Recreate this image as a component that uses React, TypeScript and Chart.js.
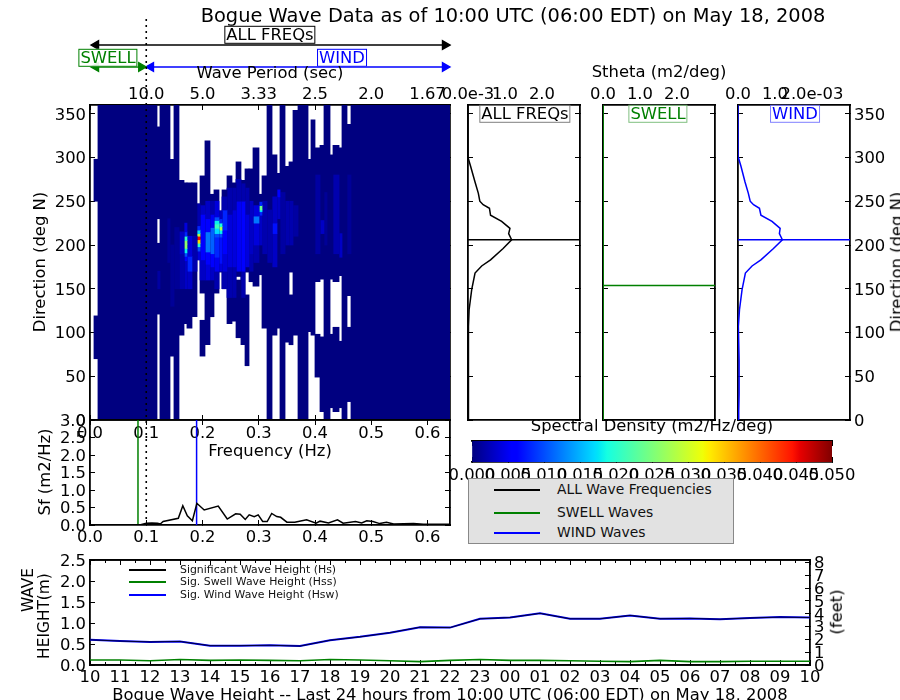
import React, { useEffect, useRef } from "react";
import { Chart, registerables } from "chart.js";

Chart.register(...registerables);

const FONT = '"DejaVu Sans", sans-serif';
const TICK_SIZE = 16.4;

// ---------- data ----------
const freqEdges = [0, 0.0071, 0.0142, 0.0213, 0.0284, 0.0356, 0.0427, 0.0498, 0.0569, 0.064, 0.0711, 0.0782, 0.0853, 0.0924, 0.0996, 0.1067, 0.1138, 0.1191, 0.1244, 0.1316, 0.1369, 0.1422, 0.1493, 0.1582, 0.1671, 0.1724, 0.1813, 0.1902, 0.1956, 0.2044, 0.2133, 0.2204, 0.2293, 0.2347, 0.2436, 0.2524, 0.2596, 0.2684, 0.2756, 0.2827, 0.2898, 0.3004, 0.3058, 0.3147, 0.3236, 0.3324, 0.3378, 0.3467, 0.3538, 0.3609, 0.3698, 0.3769, 0.3822, 0.3876, 0.3929, 0.4, 0.4089, 0.416, 0.4213, 0.4267, 0.432, 0.4427, 0.448, 0.4569, 0.464, 0.4711, 0.4782, 0.4853, 0.4924, 0.4996, 0.5067, 0.5138, 0.5209, 0.528, 0.5351, 0.5422, 0.5493, 0.5564, 0.5636, 0.5707, 0.5778, 0.5849, 0.592, 0.5991, 0.6062, 0.6133, 0.6204, 0.6276, 0.6347, 0.64];

// direction ranges holding data in each frequency column that is not full; others cover 0-360
const partialColumns: Record<number, number[][]> = {
  0: [],
  1: [[70, 119], [250, 298]],
  17: [[121, 202], [230, 335]],
  21: [[73, 298]],
  23: [[97, 274]],
  24: [[110, 271]],
  25: [[105, 271]],
  26: [[118, 271]],
  27: [[183, 247]],
  28: [[73, 114], [145, 279]],
  29: [[86, 319]],
  30: [[118, 258]],
  31: [[145, 263]],
  32: [[169, 239]],
  33: [[150, 263]],
  34: [[110, 279]],
  35: [[113, 271]],
  36: [[94, 160], [164, 295]],
  37: [[86, 274]],
  38: [[62, 143], [169, 287]],
  39: [[158, 287]],
  40: [[153, 311]],
  41: [[166, 258]],
  42: [[105, 279]],
  44: [[97, 303]],
  45: [[105, 282]],
  47: [[89, 290]],
  48: [[86, 143], [169, 295]],
  49: [[97, 354]],
  53: [[101, 298]],
  54: [[97, 343]],
  55: [[49, 98], [158, 311]],
  56: [[9.5, 95], [161, 314]],
  59: [[14, 98], [161, 303]],
  60: [[9.5, 106], [158, 314]],
  61: [[14, 90], [165, 311]],
  63: [[21, 106], [142, 338]],
};

// [column, direction low, direction high, spectral density]
const heatCells = [
  [17, 150, 170, 0.0015], [20, 180, 230, 0.001], [21, 130, 200, 0.001], [22, 150, 220, 0.001],
  [23, 150, 190, 0.002], [23, 190, 215, 0.003],
  [24, 150, 182, 0.003], [24, 182, 187, 0.006], [24, 187, 191, 0.01], [24, 191, 196, 0.018], [24, 196, 201, 0.026], [24, 201, 205, 0.026], [24, 205, 210, 0.02], [24, 210, 215, 0.008], [24, 215, 225, 0.004],
  [25, 150, 170, 0.003], [25, 170, 187, 0.008], [25, 187, 210, 0.004],
  [26, 170, 210, 0.002],
  [27, 183, 193, 0.004], [27, 193, 198, 0.01], [27, 198, 202, 0.02], [27, 202, 206, 0.034], [27, 206, 210, 0.045], [27, 210, 213, 0.028], [27, 213, 217, 0.017], [27, 217, 222, 0.008], [27, 222, 247, 0.002],
  [28, 160, 183, 0.003], [28, 183, 235, 0.006], [28, 235, 245, 0.003],
  [29, 160, 178, 0.004], [29, 178, 192, 0.006], [29, 192, 215, 0.012], [29, 215, 230, 0.006], [29, 230, 250, 0.003],
  [30, 160, 175, 0.003], [30, 175, 190, 0.006], [30, 190, 220, 0.011], [30, 220, 235, 0.005], [30, 235, 250, 0.002],
  [31, 150, 170, 0.002], [31, 170, 186, 0.005], [31, 186, 209, 0.008], [31, 209, 213, 0.01], [31, 213, 219, 0.017], [31, 219, 224, 0.021], [31, 224, 228, 0.018], [31, 228, 232, 0.01], [31, 232, 250, 0.004],
  [32, 170, 179, 0.004], [32, 179, 209, 0.007], [32, 209, 213, 0.01], [32, 213, 217, 0.018], [32, 217, 221, 0.028], [32, 221, 225, 0.019], [32, 225, 230, 0.008], [32, 230, 239, 0.003],
  [33, 150, 170, 0.002], [33, 170, 190, 0.004], [33, 190, 217, 0.006], [33, 217, 240, 0.008], [33, 240, 255, 0.002],
  [34, 140, 175, 0.002], [34, 175, 235, 0.004], [34, 235, 265, 0.002],
  [35, 140, 175, 0.002], [35, 175, 240, 0.004], [35, 240, 265, 0.002],
  [36, 170, 250, 0.005], [36, 250, 275, 0.002],
  [37, 140, 170, 0.002], [37, 170, 250, 0.006], [37, 250, 270, 0.002],
  [38, 175, 235, 0.004], [38, 235, 265, 0.002], [39, 170, 190, 0.002], [39, 190, 250, 0.003],
  [40, 180, 200, 0.002], [40, 200, 225, 0.004], [40, 225, 233, 0.012], [40, 233, 245, 0.004],
  [41, 200, 234, 0.003], [41, 234, 238, 0.008], [41, 238, 240, 0.017], [41, 240, 245, 0.024], [41, 245, 249, 0.008],
  [42, 190, 250, 0.002], [43, 180, 240, 0.002],
  [44, 175, 213, 0.003], [44, 213, 225, 0.007], [44, 225, 255, 0.003],
  [45, 230, 255, 0.003], [45, 255, 263, 0.006],
  [46, 190, 260, 0.0015], [47, 200, 250, 0.002], [48, 200, 250, 0.002], [49, 210, 245, 0.0015],
  [55, 190, 280, 0.0015], [56, 213, 228, 0.003], [57, 200, 260, 0.001],
  [60, 190, 280, 0.002], [61, 186, 213, 0.003], [63, 190, 280, 0.001],
];

const directionTicks = [0, 50, 100, 150, 200, 250, 300, 350];
const freqTicks = [0, 0.1, 0.2, 0.3, 0.4, 0.5, 0.6];
const periodLabels = ["", "10.0", "5.0", "3.33", "2.5", "2.0", "1.67"];

const sthetaDirs = [0, 10, 30, 68, 107, 126, 149, 168, 176, 183, 196, 206, 213, 219, 227, 234, 242, 246, 250, 259, 272, 290, 300, 360];
const sthetaAll = [0.01, 0.01, 0.02, 0.02, 0, 0.03, 0.1, 0.19, 0.37, 0.61, 0.95, 1.18, 1.1, 1.135, 0.91, 0.61, 0.58, 0.41, 0.32, 0.28, 0.19, 0.07, 0, 0];
const sthetaSwell = [0.004, 0.004, 0.004, 0.004, 0.004, 0.004, 0.004, 0.004, 0.004, 0.004, 0.004, 0.004, 0.004, 0.004, 0.004, 0.004, 0.004, 0.004, 0.004, 0.004, 0.004, 0.004, 0.004, 0.004];
const sthetaWind = [0.01, 0.02, 0.03, 0.03, 0.01, 0.04, 0.11, 0.2, 0.38, 0.62, 0.96, 1.2, 1.12, 1.14, 0.92, 0.62, 0.58, 0.42, 0.33, 0.28, 0.19, 0.08, 0.01, 0];
const sthetaTicks = [0, 1, 2];
const sthetaLabelsAll = ["0.0e-3", "1.0", "2.0"];
const sthetaLabelsSwell = ["0.0", "1.0", "2.0"];
const sthetaLabelsWind = ["0.0", "1.0", "2.0e-03"];
const meanDirAll = 206;
const meanDirSwell = 153.8;
const meanDirWind = 206;

const sfFreq = [0, 0.09, 0.1, 0.11, 0.12, 0.125, 0.13, 0.157, 0.165, 0.173, 0.182, 0.19, 0.203, 0.228, 0.244, 0.259, 0.267, 0.276, 0.283, 0.292, 0.299, 0.307, 0.315, 0.323, 0.332, 0.339, 0.35, 0.364, 0.385, 0.402, 0.409, 0.424, 0.44, 0.45, 0.472, 0.483, 0.492, 0.503, 0.515, 0.527, 0.54, 0.575, 0.593, 0.64];
const sfValues = [0.01, 0.01, 0.05, 0.06, 0.05, 0.03, 0.1, 0.19, 0.55, 0.26, 0.12, 0.62, 0.43, 0.54, 0.17, 0.32, 0.31, 0.16, 0.29, 0.24, 0.29, 0.1, 0.1, 0.33, 0.24, 0.22, 0.08, 0.08, 0.15, 0.05, 0.11, 0.06, 0.15, 0.05, 0.1, 0.06, 0.12, 0.1, 0.04, 0.08, 0.03, 0.04, 0.02, 0.02];
const sfTicks = [0, 0.5, 1, 1.5, 2, 2.5, 3];
const peakFreqSwell = 0.0853;
const peakFreqWind = 0.1895;
const splitFreq = 0.1;

const hourPositions = [0, 1, 2, 3, 4, 5, 6, 7, 8, 9, 10, 11, 12, 13, 14, 15, 16, 17, 18, 19, 20, 21, 22, 23, 24];
const hourMinor = [0.5, 1.5, 2.5, 3.5, 4.5, 5.5, 6.5, 7.5, 8.5, 9.5, 10.5, 11.5, 12.5, 13.5, 14.5, 15.5, 16.5, 17.5, 18.5, 19.5, 20.5, 21.5, 22.5, 23.5];
const hourLabels = ["10", "11", "12", "13", "14", "15", "16", "17", "18", "19", "20", "21", "22", "23", "00", "01", "02", "03", "04", "05", "06", "07", "08", "09", "10"];
const hsValues = [0.6, 0.57, 0.55, 0.56, 0.46, 0.46, 0.47, 0.45, 0.59, 0.67, 0.77, 0.9, 0.89, 1.1, 1.13, 1.23, 1.1, 1.1, 1.18, 1.1, 1.11, 1.09, 1.12, 1.14, 1.13];
const hssValues = [0.12, 0.12, 0.1, 0.13, 0.11, 0.12, 0.11, 0.1, 0.13, 0.12, 0.1, 0.08, 0.11, 0.13, 0.11, 0.11, 0.1, 0.09, 0.08, 0.11, 0.08, 0.08, 0.09, 0.09, 0.09];
const hswValues = [0.6, 0.57, 0.55, 0.56, 0.46, 0.46, 0.47, 0.45, 0.59, 0.67, 0.77, 0.9, 0.89, 1.1, 1.13, 1.23, 1.1, 1.1, 1.18, 1.1, 1.11, 1.09, 1.12, 1.14, 1.13];
const heightTicks = [0, 0.5, 1, 1.5, 2, 2.5];
const feetTicks = [0, 1, 2, 3, 4, 5, 6, 7, 8];

const densityTicks = [0, 0.005, 0.01, 0.015, 0.02, 0.025, 0.03, 0.035, 0.04, 0.045, 0.05];

// ---------- helpers ----------
const lerpStops = (t: number, stops: number[][]) => {
  for (let i = 1; i < stops.length; i++) {
    if (t <= stops[i][0]) {
      const [a, va] = stops[i - 1];
      const [b, vb] = stops[i];
      return va + ((vb - va) * (t - a)) / (b - a);
    }
  }
  return stops[stops.length - 1][1];
};
const jet = (t: number) => {
  const r = lerpStops(t, [[0, 0], [0.35, 0], [0.66, 1], [0.89, 1], [1, 0.5]]);
  const g = lerpStops(t, [[0, 0], [0.125, 0], [0.375, 1], [0.64, 1], [0.91, 0], [1, 0]]);
  const b = lerpStops(t, [[0, 0.5], [0.11, 1], [0.34, 1], [0.65, 0], [1, 0]]);
  return `rgb(${Math.round(r * 255)},${Math.round(g * 255)},${Math.round(b * 255)})`;
};
const JET_STOPS = [0, 0.11, 0.125, 0.34, 0.35, 0.375, 0.64, 0.65, 0.66, 0.89, 0.91, 1];
const densityColor = (v: number) => jet(Math.min(1, v / 0.05));

// axes take no layout room, and their labels may spill outside the axis box as in the reference
const flatten = (s: any) => {
  if (s.isHorizontal()) s.height = 0;
  else s.width = 0;
  s.paddingLeft = s.paddingRight = s.paddingTop = s.paddingBottom = 0;
  s._computeLabelArea = () => undefined;
};

const axis = (
  position: string,
  min: number,
  max: number,
  values: number[],
  format: null | ((v: number, i: number) => string),
  tickLen = 5,
  pad = 4,
  extra: any = {}
) => {
  const vertical = position === "left" || position === "right";
  return {
    type: "linear",
    position,
    min,
    max,
    offset: false,
    afterBuildTicks: (s: any) => {
      s.ticks = values.map((value) => ({ value }));
    },
    afterFit: flatten,
    grid: {
      display: true,
      offset: false,
      drawOnChartArea: false,
      drawTicks: tickLen > 0,
      tickLength: -tickLen,
      tickColor: "#000",
      tickWidth: 1,
    },
    border: { display: true, color: "#000", width: 1.8 },
    ticks: {
      display: !!format,
      autoSkip: false,
      maxRotation: 0,
      minRotation: 0,
      padding: pad + tickLen,
      color: "#000",
      // an empty first line with a 3px line height sets vertical-axis labels 1.5px lower, as in the reference
      font: vertical ? { family: FONT, size: TICK_SIZE, lineHeight: "3px" } : { family: FONT, size: TICK_SIZE },
      callback: (v: number, i: number) => {
        const text = format ? format(v, i) : "";
        return vertical ? ["", text] : text;
      },
    },
    ...extra,
  };
};

const options = (box: number[], scales: any, extra: any = {}) => ({
  responsive: false,
  animation: false,
  devicePixelRatio: 1,
  events: [],
  layout: { padding: { left: box[0], top: box[1], right: 900 - box[2], bottom: 700 - box[3] } },
  plugins: { legend: { display: false }, tooltip: { enabled: false } },
  scales,
  ...extra,
});

const line = (xs: number[], ys: number[], color: string, width = 1.5, extra: any = {}) => ({
  data: xs.map((x, i) => ({ x, y: ys[i] })),
  borderColor: color,
  backgroundColor: color,
  borderWidth: width,
  pointRadius: 0,
  showLine: true,
  tension: 0,
  ...extra,
});

const fixed1 = (v: number) => v.toFixed(1);
const whole = (v: number) => String(v);

// ---------- heatmap ----------
const heatDatasets = freqEdges.slice(0, -1).map((edge, col) => {
  const next = freqEdges[col + 1];
  const spans = partialColumns[col] ?? [[0, 360]];
  const x = (edge + next) / 2;
  const cells = [
    ...spans.map(([lo, hi]) => ({ x, y: [lo, hi], v: 0 })),
    ...heatCells.filter((c) => c[0] === col).map((c) => ({ x, y: [c[1], c[2]], v: c[3] })),
  ];
  return {
    data: cells,
    barThickness: ((next - edge) / 0.64) * 360 + 0.12,
    grouped: false,
    borderWidth: 0,
    backgroundColor: (ctx: any) => densityColor(ctx.raw ? ctx.raw.v : 0),
  };
});

const heatConfig = {
  type: "bar",
  data: { datasets: heatDatasets },
  options: options([90, 105, 450, 420], {
    x: axis("bottom", 0, 0.64, freqTicks, fixed1),
    xTop: axis("top", 0, 0.64, freqTicks, (_v, i) => periodLabels[i], 5, 0),
    y: axis("left", 0, 360, directionTicks, whole),
    yRight: axis("right", 0, 360, directionTicks, null),
  }),
};

// ---------- directional panels ----------
const sthetaConfig = (box: number[], values: number[], meanDir: number, color: string, labels: string[], showRight: boolean) => ({
  type: "scatter",
  data: {
    datasets: [
      line(values, sthetaDirs, color),
      line([0, 3.03], [meanDir, meanDir], color),
    ],
  },
  options: options(box, {
    x: axis("bottom", 0, 3.03, sthetaTicks, null, 0),
    xTop: axis("top", 0, 3.03, sthetaTicks, (_v, i) => labels[i], 0, 0),
    y: axis("left", 0, 360, directionTicks, null),
    yRight: axis("right", 0, 360, directionTicks, showRight ? whole : null),
  }),
});

// ---------- frequency spectrum ----------
const sfConfig = {
  type: "scatter",
  data: {
    datasets: [
      line(sfFreq, sfValues, "#000"),
      line([peakFreqSwell, peakFreqSwell], [0, 3], "#008000"),
      line([peakFreqWind, peakFreqWind], [0, 3], "#0000ff"),
    ],
  },
  options: options([90, 420, 450, 525], {
    x: axis("bottom", 0, 0.64, freqTicks, fixed1, 5, 3),
    xTop: axis("top", 0, 0.64, freqTicks, null),
    y: axis("left", 0, 3, sfTicks, fixed1),
    yRight: axis("right", 0, 3, sfTicks, null),
  }),
};

// ---------- arrows and the dotted split line ----------
const arrow = (x0: number, x1: number, y: number, color: string) =>
  line([x0, x1], [y, y], color, 1.4, {
    pointStyle: "triangle",
    pointRadius: 5,
    pointRotation: [-90, 90],
    clip: false,
  });

const arrowsConfig = {
  type: "scatter",
  data: {
    datasets: [
      line([splitFreq, splitFreq], [0, 1], "#000", 1.6, { borderDash: [2, 4] }),
      arrow(0.0107, 0.6311, 0.9467, "#000"),
      arrow(0.0107, 0.0911, 0.9034, "#008000"),
      arrow(0.1084, 0.6311, 0.9034, "#0000ff"),
    ],
  },
  options: options([90, 18, 450, 525], {
    x: { type: "linear", min: 0, max: 0.64, display: false, afterFit: flatten },
    y: { type: "linear", min: 0, max: 1, display: false, afterFit: flatten },
  }),
};

// ---------- colour bar ----------
const colorbarConfig = {
  type: "bar",
  data: {
    labels: ["density"],
    datasets: [
      {
        data: [[0, 0.05]],
        barPercentage: 1,
        categoryPercentage: 1,
        borderWidth: 0,
        backgroundColor: (ctx: any) => {
          const area = ctx.chart.chartArea;
          if (!area) return "#000";
          const g = ctx.chart.ctx.createLinearGradient(area.left, 0, area.right, 0);
          JET_STOPS.forEach((t) => g.addColorStop(t, jet(t)));
          return g;
        },
      },
    ],
  },
  options: options(
    [472, 441, 832, 462],
    {
      x: axis("bottom", 0, 0.05, densityTicks, (v) => v.toFixed(3)),
      xTop: axis("top", 0, 0.05, densityTicks, null),
      y: { type: "category", display: false, afterFit: flatten },
    },
    { indexAxis: "y" }
  ),
};

// ---------- wave height history ----------
const heightConfig = {
  type: "scatter",
  data: {
    datasets: [
      line(hourPositions, hsValues, "#000", 0.8, { yAxisID: "y" }),
      line(hourPositions, hssValues, "#008000", 1.6, { yAxisID: "y" }),
      line(hourPositions, hswValues, "#0000ff", 2, { yAxisID: "y" }),
    ],
  },
  options: options([90, 560, 810, 665], {
    x: axis("bottom", 0, 24, hourPositions, (_v, i) => hourLabels[i], 5, 3),
    xTop: axis("top", 0, 24, hourPositions, null),
    xMinor: axis("bottom", 0, 24, hourMinor, null, 3),
    xMinorTop: axis("top", 0, 24, hourMinor, null, 3),
    y: axis("left", 0, 2.5, heightTicks, fixed1),
    yFeet: axis("right", 0, 8.2, feetTicks, whole),
  }),
};

const chartConfigs: any[] = [
  heatConfig,
  sfConfig,
  sthetaConfig([468, 105, 580, 420], sthetaAll, meanDirAll, "#000", sthetaLabelsAll, false),
  sthetaConfig([603, 105, 715, 420], sthetaSwell, meanDirSwell, "#008000", sthetaLabelsSwell, false),
  sthetaConfig([738, 105, 850, 420], sthetaWind, meanDirWind, "#0000ff", sthetaLabelsWind, true),
  colorbarConfig,
  heightConfig,
  arrowsConfig,
];

// ---------- text ----------
type Note = { text: string; x: number; y: number; size?: number; color?: string; rotate?: boolean; box?: string; fill?: string };
const notes: Note[] = [
  { text: "Bogue Wave Data as of 10:00 UTC (06:00 EDT) on May 18, 2008", x: 513, y: 16, size: 19.4 },
  { text: "ALL FREQs", x: 270, y: 35, box: "#000", fill: "rgba(255,255,255,0.9)" },
  { text: "SWELL", x: 108, y: 57.5, color: "#008000", box: "#008000", fill: "rgba(255,255,255,0.9)" },
  { text: "WIND", x: 342, y: 57.5, color: "#0000ff", box: "#0000ff", fill: "rgba(255,255,255,0.9)" },
  { text: "Wave Period (sec)", x: 270, y: 73 },
  { text: "Stheta (m2/deg)", x: 659, y: 72 },
  { text: "ALL FREQs", x: 525, y: 114, box: "rgba(0,0,0,0.5)", fill: "rgba(255,255,255,0.7)" },
  { text: "SWELL", x: 658, y: 114, color: "#008000", box: "rgba(0,128,0,0.5)", fill: "rgba(255,255,255,0.7)" },
  { text: "WIND", x: 795, y: 114, color: "#0000ff", box: "rgba(0,0,255,0.5)", fill: "rgba(255,255,255,0.7)" },
  { text: "Direction (deg N)", x: 40, y: 262, rotate: true },
  { text: "Direction (deg N)", x: 897, y: 262, rotate: true },
  { text: "Frequency (Hz)", x: 270, y: 451 },
  { text: "Spectral Density (m2/Hz/deg)", x: 652, y: 426 },
  { text: "Sf (m2/Hz)", x: 45, y: 472, rotate: true },
  { text: "WAVE", x: 29, y: 590, rotate: true, size: 15.4 },
  { text: "HEIGHT(m)", x: 45, y: 616, rotate: true, size: 15.4 },
  { text: "(feet)", x: 837, y: 612, rotate: true },
  { text: "Bogue Wave Height -- Last 24 hours from 10:00 UTC (06:00 EDT) on May 18, 2008", x: 450, y: 695 },
];

type LegendRow = { text: string; color: string; y: number };
const bigLegend: LegendRow[] = [
  { text: "ALL Wave Frequencies", color: "#000", y: 490 },
  { text: "SWELL Waves", color: "#008000", y: 513 },
  { text: "WIND Waves", color: "#0000ff", y: 533 },
];
const smallLegend: LegendRow[] = [
  { text: "Significant Wave Height (Hs)", color: "#000", y: 570 },
  { text: "Sig. Swell Wave Height (Hss)", color: "#008000", y: 582 },
  { text: "Sig. Wind Wave Height (Hsw)", color: "#0000ff", y: 595 },
];

const legendRows = (rows: LegendRow[], x0: number, x1: number, xText: number, size: number) =>
  rows.map((r) => (
    <React.Fragment key={r.text}>
      <div style={{ position: "absolute", left: x0, top: r.y - 1, width: x1 - x0, height: 1.6, background: r.color }} />
      <div
        style={{
          position: "absolute",
          left: xText,
          top: r.y,
          transform: "translateY(-50%)",
          fontSize: size,
          color: "#111",
          whiteSpace: "nowrap",
          lineHeight: 1,
        }}
      >
        {r.text}
      </div>
    </React.Fragment>
  ));

export default function App() {
  const refs = useRef<(HTMLCanvasElement | null)[]>([]);
  useEffect(() => {
    const charts = chartConfigs.map((cfg, i) => new Chart(refs.current[i] as HTMLCanvasElement, cfg));
    return () => charts.forEach((c) => c.destroy());
  }, []);
  return (
    <div
      style={{
        position: "absolute",
        left: 0,
        top: 0,
        width: 900,
        height: 700,
        overflow: "hidden",
        background: "#fff",
        fontFamily: FONT,
      }}
    >
      {chartConfigs.map((_, i) => (
        <canvas
          key={i}
          ref={(el) => {
            refs.current[i] = el;
          }}
          width={900}
          height={700}
          style={{ position: "absolute", left: 0, top: 0, width: 900, height: 700 }}
        />
      ))}
      <div
        style={{
          position: "absolute",
          left: 468,
          top: 478,
          width: 264,
          height: 64,
          background: "#e2e2e2",
          border: "1px solid #888",
        }}
      />
      {legendRows(bigLegend, 494, 540, 557, 13.85)}
      {legendRows(smallLegend, 129, 166, 180, 10.9)}
      {notes.map((n, i) => (
        <div
          key={i}
          style={{
            position: "absolute",
            left: n.x,
            top: n.y,
            transform: `translate(-50%,-50%)${n.rotate ? " rotate(-90deg)" : ""}`,
            fontSize: n.size ?? TICK_SIZE,
            color: n.color ?? "#000",
            whiteSpace: "nowrap",
            lineHeight: 1,
            padding: n.box ? "0 1px" : 0,
            border: n.box ? `1px solid ${n.box}` : "none",
            background: n.fill ?? "transparent",
          }}
        >
          {n.text}
        </div>
      ))}
    </div>
  );
}
